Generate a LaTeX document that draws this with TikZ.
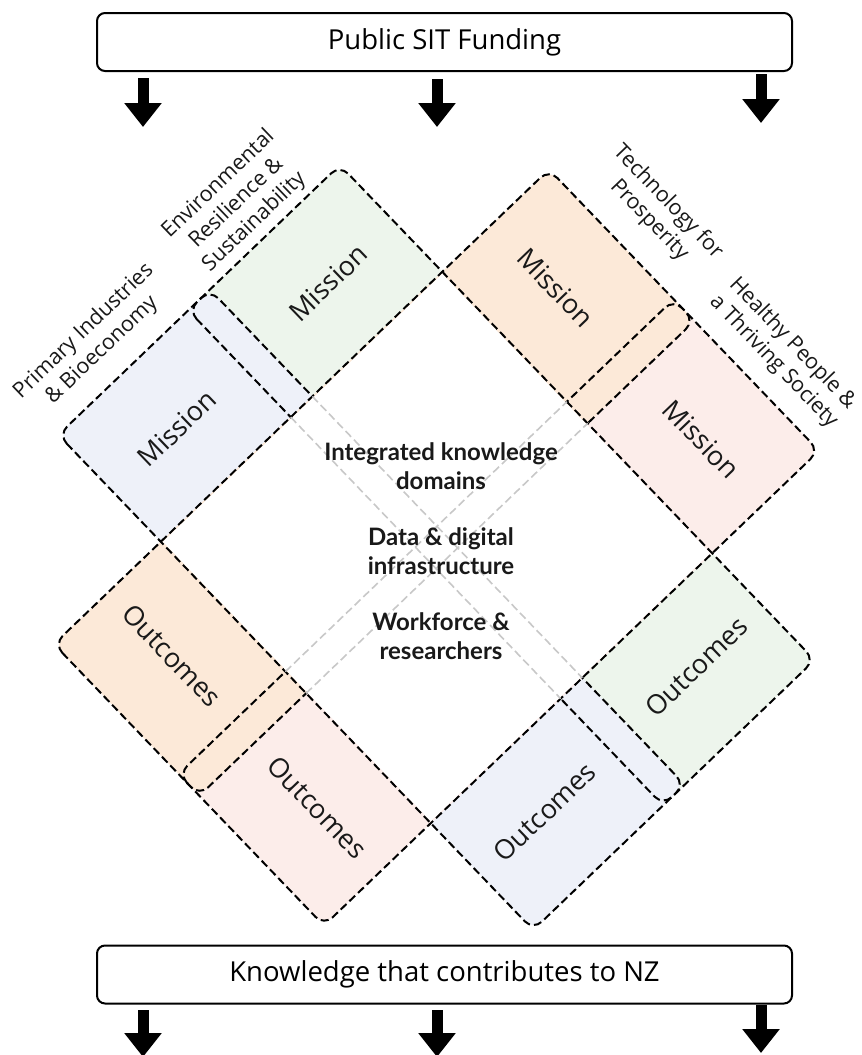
\documentclass[tikz,border=0pt]{standalone}
\usepackage{fontspec}
\setmainfont{Open Sans}
\newfontfamily\latofont{Lato}
\usetikzlibrary{arrows.meta}
\definecolor{bfill}{RGB}{238,241,249}
\definecolor{gfill}{RGB}{237,245,236}
\definecolor{ofill}{RGB}{252,233,216}
\definecolor{pfill}{RGB}{252,237,234}
\definecolor{gline}{RGB}{200,200,200}
\tikzset{
  stripline/.style={draw=black, line width=2pt, dash pattern=on 8pt off 4pt, rounded corners=12pt},
  stripfill/.style={rounded corners=12pt},
  innerline/.style={draw=gline, line width=1.6pt, dash pattern=on 8pt off 4pt},
  boxnode/.style={draw=black, line width=2pt, rounded corners=8pt, minimum width=695pt, minimum height=58pt, font=\fontsize{27.5}{33}\selectfont, inner sep=0pt},
  bigarrow/.style={line width=11pt, -{Triangle[width=36pt,length=24pt]}},
  tag/.style={font=\fontsize{27}{32}\selectfont, inner sep=0pt, text=black!90},
  lbl/.style={font=\fontsize{21.5}{26}\selectfont, align=center, inner sep=0pt, text=black!90},
  ctr/.style={font=\latofont\bfseries\fontsize{24}{28.5}\selectfont, align=center, inner sep=0pt, text=black!90}
}
\begin{document}
\begin{tikzpicture}[x=1pt,y=1pt]
\useasboundingbox (0,0) rectangle (862,-1055);
\fill[white] (0,0) rectangle (862,-1055);

% boxes
\node[boxnode] (top) at (444.5,-42) {Public SIT Funding};
\node[boxnode] (bot) at (444.5,-974.5) {Knowledge that contributes to NZ};

% arrows
\coordinate (ta1) at (143,-78);  \coordinate (tb1) at (143,-127);
\coordinate (ta2) at (437,-79);  \coordinate (tb2) at (437,-127);
\coordinate (ta3) at (761,-74);  \coordinate (tb3) at (761,-123);
\coordinate (ba1) at (143,-1010); \coordinate (bb1) at (143,-1057);
\coordinate (ba2) at (437,-1010); \coordinate (bb2) at (437,-1057);
\coordinate (ba3) at (761,-1005); \coordinate (bb3) at (761,-1053);
\foreach \i in {1,2,3}{
  \draw[bigarrow] (ta\i) -- (tb\i);
  \draw[bigarrow] (ba\i) -- (bb\i);
}

\begin{scope}[shift={(436.5,-547.5)}, rotate=-46.2]
  % fills
  \fill[gfill, stripfill] (-343,-15) -- (343,-15) -- (343,195) -- (-343,195) -- cycle;
  \fill[bfill, stripfill] (-343,-195) -- (343,-195) -- (343,15) -- (-343,15) -- cycle;
  \fill[pfill, stripfill] (-15,-343) -- (195,-343) -- (195,343) -- (-15,343) -- cycle;
  \fill[ofill, stripfill] (-195,-343) -- (15,-343) -- (15,343) -- (-195,343) -- cycle;
  % outlines
  \draw[stripline] (-343,-15) -- (343,-15) -- (343,195) -- (-343,195) -- cycle;
  \draw[stripline] (-343,-195) -- (343,-195) -- (343,15) -- (-343,15) -- cycle;
  \draw[stripline] (-15,-343) -- (195,-343) -- (195,343) -- (-15,343) -- cycle;
  \draw[stripline] (-195,-343) -- (15,-343) -- (15,343) -- (-195,343) -- cycle;
  % central area
  \fill[white] (-193.5,-193.5) -- (193.5,-193.5) -- (193.5,193.5) -- (-193.5,193.5) -- cycle;
  \draw[innerline] (-195,15) -- (195,15);
  \draw[innerline] (-195,-15) -- (195,-15);
  \draw[innerline] (15,-195) -- (15,195);
  \draw[innerline] (-15,-195) -- (-15,195);
  % mission / outcomes
  \node[tag, rotate=43.8] (mB) at (-266,-105) {Mission};
  \node[tag, rotate=43.8] (mG) at (-266,105) {Mission};
  \node[tag, rotate=-46.2] (mO) at (-105,266) {Mission};
  \node[tag, rotate=-46.2] (mP) at (105,266) {Mission};
  \node[tag, rotate=43.8] (oB) at (266,-105) {Outcomes};
  \node[tag, rotate=43.8] (oG) at (266,105) {Outcomes};
  \node[tag, rotate=-46.2] (oO) at (-105,-266) {Outcomes};
  \node[tag, rotate=-46.2] (oP) at (105,-266) {Outcomes};
  % strip labels
  \node[lbl, rotate=43.8] (lB) at (-387,-105) {Primary Industries\\\& Bioeconomy};
  \node[lbl, rotate=43.8] (lG) at (-387,94) {Environmental\\Resilience \&\\Sustainability};
  \node[lbl, rotate=-46.2] (lO) at (-89,393) {Technology for\\Prosperity};
  \node[lbl, rotate=-46.2] (lP) at (99,385) {Healthy People \&\\a Thriving Society};
\end{scope}

% centre texts
\node[ctr] (cK) at (441,-466) {Integrated knowledge\\domains};
\node[ctr] (cD) at (441,-551) {Data \& digital\\infrastructure};
\node[ctr] (cW) at (441,-636) {Workforce \&\\researchers};
\end{tikzpicture}
\end{document}
